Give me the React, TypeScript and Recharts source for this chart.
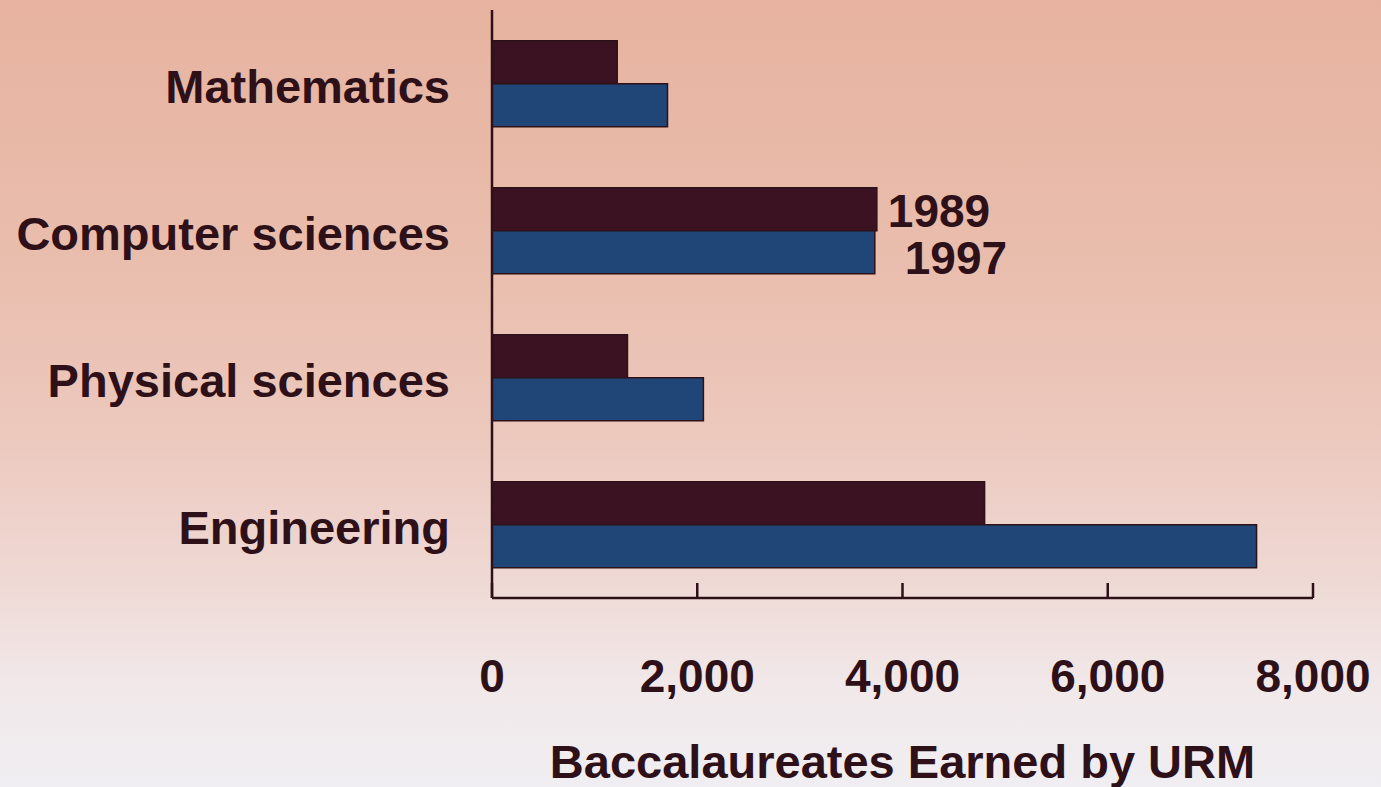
import React from "react";
import { Bar, BarChart, LabelList, XAxis, YAxis } from "recharts";

const fields = ["Mathematics", "Computer sciences", "Physical sciences", "Engineering"];
const urm1989 = [1220, 3750, 1320, 4800];
const urm1997 = [1710, 3730, 2060, 7450];
const xTicks = [0, 2000, 4000, 6000, 8000];
const yearNames = ["1989", "1997"];
const labelledField = "Computer sciences";

const INK = "#2e1019";
const MAROON = "#3b1221";
const BLUE = "#1f4676";
const FONT = "'Liberation Sans', Arial, Helvetica, sans-serif";

const chartData = fields.map((name, i) => ({
  name,
  y1989: urm1989[i],
  y1997: urm1997[i],
}));

function XTick(props: any) {
  const { x, y, payload } = props;
  return (
    <g>
      <line x1={x} y1={y} x2={x} y2={y - 15} stroke={INK} strokeWidth={2.5} />
      <text
        x={x}
        y={y + 94}
        textAnchor="middle"
        fill={INK}
        fontFamily={FONT}
        fontWeight="bold"
        fontSize={46}
      >
        {Number(payload.value).toLocaleString("en-US")}
      </text>
    </g>
  );
}

function YTick(props: any) {
  const { x, y, payload } = props;
  return (
    <text
      x={x}
      y={y + 19}
      textAnchor="end"
      fill={INK}
      fontFamily={FONT}
      fontWeight="bold"
      fontSize={47}
    >
      {payload.value}
    </text>
  );
}

// draws the year name next to one group of bars only
function yearLabel(text: string, gap: number, dy: number) {
  return (props: any) => {
    const { x, y, width, height, index } = props;
    if (fields[index] !== labelledField) return null;
    return (
      <text
        x={x + width + gap}
        y={y + height / 2 + dy}
        fill={INK}
        fontFamily={FONT}
        fontWeight="bold"
        fontSize={46}
      >
        {text}
      </text>
    );
  };
}

export default function App() {
  return (
    <div
      style={{
        position: "absolute",
        left: 0,
        top: 0,
        width: 1381,
        height: 787,
        background:
          "linear-gradient(180deg, #e7b3a0 0%, #e9bcab 30%, #ecc8bd 55%, #efd9d5 74%, #f1e8e9 87%, #f0eef2 100%)",
      }}
    >
      <BarChart
        width={1381}
        height={787}
        data={chartData}
        layout="vertical"
        margin={{ top: 10, right: 68, left: 0, bottom: 0 }}
        barCategoryGap="21%"
        barGap={0}
      >
        <XAxis
          type="number"
          domain={[0, 8000]}
          ticks={xTicks}
          height={189}
          tickSize={0}
          tickMargin={0}
          tickLine={false}
          axisLine={{ stroke: INK, strokeWidth: 2.5 }}
          tick={<XTick />}
          interval={0}
          label={{
            value: "Baccalaureates Earned by URM",
            position: "insideBottom",
            offset: 9,
            fill: INK,
            fontFamily: FONT,
            fontWeight: "bold",
            fontSize: 47,
          }}
        />
        <YAxis
          type="category"
          dataKey="name"
          width={492}
          tickSize={0}
          tickMargin={42}
          tickLine={false}
          axisLine={{ stroke: INK, strokeWidth: 2.5 }}
          tick={<YTick />}
          interval={0}
        />
        <Bar
          dataKey="y1989"
          fill={MAROON}
          stroke={INK}
          strokeWidth={1.5}
          isAnimationActive={false}
        >
          <LabelList dataKey="y1989" content={yearLabel(yearNames[0], 11, 18)} />
        </Bar>
        <Bar
          dataKey="y1997"
          fill={BLUE}
          stroke={INK}
          strokeWidth={1.5}
          isAnimationActive={false}
        >
          <LabelList dataKey="y1997" content={yearLabel(yearNames[1], 30, 22)} />
        </Bar>
      </BarChart>
    </div>
  );
}
